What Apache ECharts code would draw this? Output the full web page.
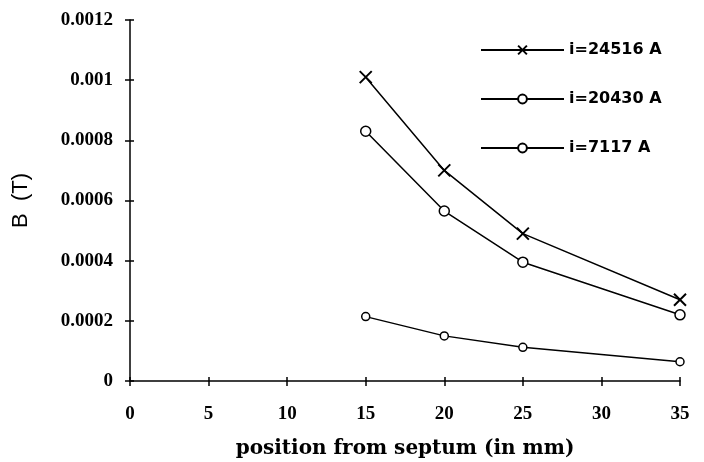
<!DOCTYPE html>
<html><head><meta charset="utf-8">
<script src="https://cdn.jsdelivr.net/npm/echarts@6/dist/echarts.min.js"></script>
<style>html,body{margin:0;padding:0;background:#fff}#c{width:704px;height:462px}</style>
</head><body><div id="c"></div>
<script>
const positions = [15, 20, 25, 35];
const seriesNames = ['i=24516 A', 'i=20430 A', 'i=7117 A'];
const b24516 = [0.00101, 0.00070, 0.00049, 0.00027];
const b20430 = [0.00083, 0.000565, 0.000395, 0.00022];
const b7117 = [0.000214, 0.00015, 0.000112, 0.000064];
const xTicks = [0, 5, 10, 15, 20, 25, 30, 35];
const yTicks = [0, 0.0002, 0.0004, 0.0006, 0.0008, 0.001, 0.0012];

const pair = (vals) => positions.map((p, i) => [p, vals[i]]);
const serif = '"Liberation Serif", "Times New Roman", serif';
const wideSerif = '"DejaVu Serif", serif';
const sans = '"DejaVu Sans", sans-serif';
const chart = echarts.init(document.getElementById('c'));
const common = { type: 'line', lineStyle: { color: '#000', width: 1.5 }, itemStyle: { color: '#fff', borderColor: '#000', borderWidth: 1.5 }, z: 3 };
chart.setOption({
  animation: false,
  backgroundColor: '#fff',
  grid: { left: 130, right: 24, top: 20, bottom: 81, containLabel: false, outerBoundsMode: 'none' },
  legend: {
    orient: 'vertical', left: 475, top: 37, itemWidth: 83, itemHeight: 11, itemGap: 33,
    textStyle: { fontFamily: sans, fontSize: 16, fontWeight: 'bold', color: '#000', padding: [0, 0, 0, 0] },
    data: seriesNames
  },
  xAxis: [{
    type: 'value', min: xTicks[0], max: xTicks[xTicks.length - 1], interval: 5,
    name: 'position from septum (in mm)', nameLocation: 'middle', nameGap: 58,
    nameTextStyle: { fontFamily: wideSerif, fontSize: 20, fontWeight: 'bold', color: '#000' },
    axisLine: { lineStyle: { color: '#000', width: 1.5 } },
    axisTick: { length: 5, lineStyle: { color: '#000', width: 1.5 } },
    axisLabel: { fontFamily: serif, fontSize: 19, fontWeight: 'bold', color: '#000', margin: 24 },
    splitLine: { show: false }
  }, {
    type: 'value', position: 'bottom', min: xTicks[0], max: xTicks[xTicks.length - 1], interval: 5,
    axisLine: { show: false }, axisLabel: { show: false },
    axisTick: { inside: true, length: 4, lineStyle: { color: '#000', width: 1.5 } },
    splitLine: { show: false }
  }],
  yAxis: [{
    type: 'value', min: yTicks[0], max: yTicks[yTicks.length - 1], interval: 0.0002,
    name: 'B  (T)', nameLocation: 'middle', nameGap: 98, nameRotate: 90,
    nameTextStyle: { fontFamily: '"Liberation Sans", Arial, sans-serif', fontSize: 22, color: '#000' },
    axisLine: { show: true, lineStyle: { color: '#000', width: 1.5 } },
    axisTick: { show: true, length: 5, lineStyle: { color: '#000', width: 1.5 } },
    axisLabel: { fontFamily: serif, fontSize: 19, fontWeight: 'bold', color: '#000', margin: 17,
      formatter: (v) => String(+v.toFixed(4)) },
    splitLine: { show: false }
  }, {
    type: 'value', position: 'left', min: yTicks[0], max: yTicks[yTicks.length - 1], interval: 0.0002,
    axisLine: { show: false }, axisLabel: { show: false },
    axisTick: { show: true, inside: true, length: 4, lineStyle: { color: '#000', width: 1.5 } },
    splitLine: { show: false }
  }],
  series: [
    Object.assign({}, common, { name: seriesNames[0], data: pair(b24516),
      symbol: 'path://M0,0L10,10M10,0L0,10', symbolSize: 12,
      itemStyle: { color: 'none', borderColor: '#000', borderWidth: 2 } }),
    Object.assign({}, common, { name: seriesNames[1], data: pair(b20430), symbol: 'circle', symbolSize: 10 }),
    Object.assign({}, common, { name: seriesNames[2], data: pair(b7117), symbol: 'circle', symbolSize: 8 })
  ]
});
</script></body></html>
